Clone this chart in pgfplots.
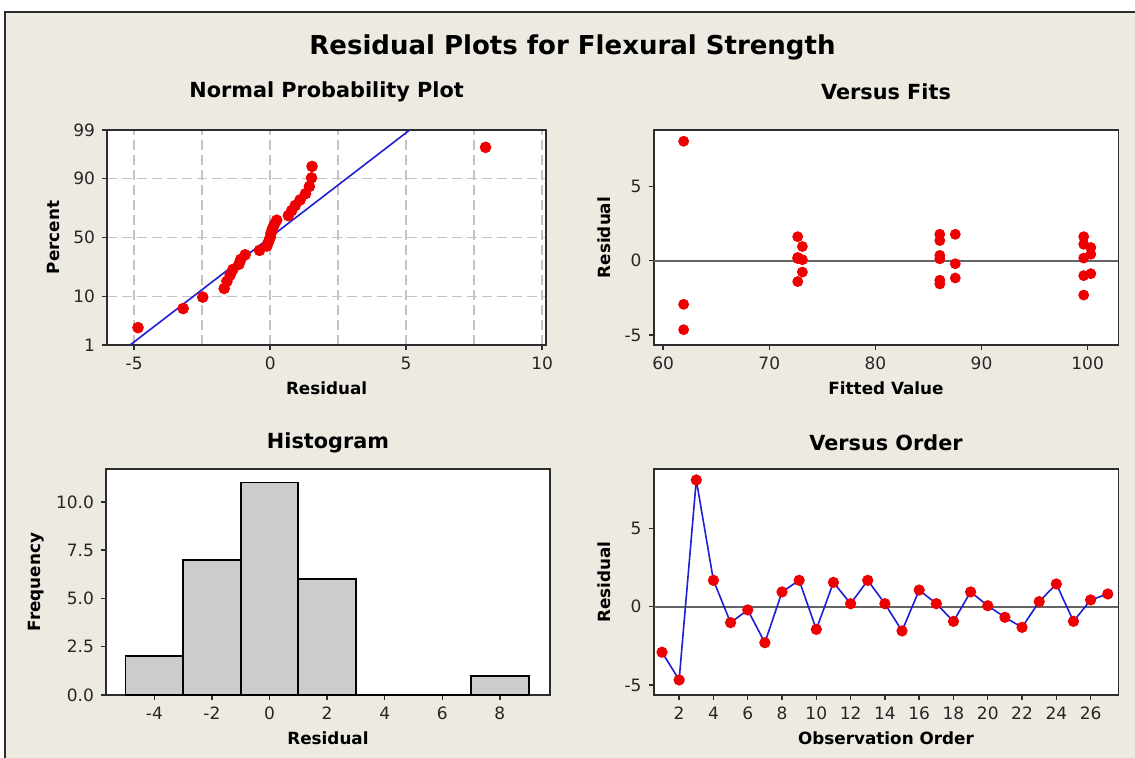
\documentclass[border=0pt]{standalone}
\usepackage{fontspec}
\setmainfont{DejaVu Sans}
\usepackage{pgfplots}
\pgfplotsset{compat=1.18}

\definecolor{bg}{RGB}{237,234,226}
\definecolor{frame}{RGB}{45,45,45}
\definecolor{dotred}{RGB}{238,0,0}
\definecolor{lineblue}{RGB}{30,30,215}
\definecolor{gridgray}{RGB}{195,195,195}
\definecolor{barfill}{RGB}{204,204,204}
\definecolor{zeroline}{RGB}{100,100,100}

\pgfplotsset{
  every axis title shift=0pt,
  resid/.style={
    scale only axis,
    anchor=north west,
    axis background/.style={fill=white},
    axis line style={frame, line width=0.9pt},
    every tick/.style={frame, line width=0.7pt},
    tick align=outside,
    xtick pos=left, ytick pos=left,
    major tick length=2.5pt,
    minor tick length=0pt,
    tick label style={font=\fontsize{8.5}{10}\selectfont, text=black!85},
    label style={font=\bfseries\fontsize{8.4}{10}\selectfont},
    title style={font=\bfseries\fontsize{10.4}{12}\selectfont, at={(axis description cs:0.5,1)}, anchor=center},
    /pgf/number format/assume math mode=true,
  },
}

\begin{document}
\begin{tikzpicture}
\path[use as bounding box] (0,0) rectangle (567.5pt,-379pt);
\fill[white] (0,0) rectangle (567.5pt,-379pt);
\fill[bg] (2.5pt,-6pt) rectangle (567.5pt,-379pt);
\draw[frame, line width=1pt] (2.5pt,-379pt) |- (567.5pt,-6pt);

\node[font=\bfseries\fontsize{13}{15}\selectfont] at (286.25pt,-23.5pt) {Residual Plots for Flexural Strength};

% normal probability plot (y = normal quantile of the plotting position)
\begin{axis}[resid,
  at={(53.5pt,-65pt)}, width=219.6pt, height=107.5pt,
  xmin=-6, xmax=10.15, ymin=-2.3263, ymax=2.3263,
  xtick={-5,0,5,10}, minor xtick={-2.5,2.5,7.5},
  ytick={-2.3263,-1.2816,0,1.2816,2.3263}, yticklabels={1,10,50,90,99},
  xmajorgrids, xminorgrids, ymajorgrids,
  grid style={gridgray, dash pattern=on 5pt off 2.5pt, line width=0.7pt},
  title={Normal Probability Plot}, title style={yshift=19pt},
  xlabel={Residual}, xlabel style={at={(axis description cs:0.5,-0.2014)}, anchor=center},
  ylabel={Percent}, ylabel style={at={(axis description cs:-0.1215,0.5)}, anchor=center},
]
\addplot[lineblue, line width=0.8pt] coordinates {(-5.15,-2.3263) (5.13,2.3263)};
\addplot[only marks, mark=*, mark size=2.7pt, mark options={draw=dotred, fill=dotred}] coordinates {
(-4.86,-1.951) (-3.20,-1.538) (-2.48,-1.290) (-1.69,-1.103) (-1.59,-0.948)
(-1.47,-0.813) (-1.37,-0.692) (-1.15,-0.580) (-1.08,-0.474) (-0.92,-0.374)
(-0.39,-0.278) (-0.12,-0.184) (-0.06,-0.092) (0.00,0.000) (0.03,0.092)
(0.08,0.184) (0.15,0.278) (0.24,0.374) (0.67,0.474) (0.79,0.580)
(0.92,0.692) (1.10,0.813) (1.30,0.948) (1.44,1.103) (1.52,1.290)
(1.54,1.538) (7.92,1.951)
};
\end{axis}

% versus fits
\begin{axis}[resid,
  at={(326.8pt,-65pt)}, width=232.4pt, height=107.5pt,
  xmin=59.1, xmax=102.9, ymin=-5.67, ymax=8.8,
  xtick={60,70,80,90,100}, ytick={-5,0,5},
  title={Versus Fits}, title style={yshift=19pt},
  xlabel={Fitted Value}, xlabel style={at={(axis description cs:0.5,-0.2014)}, anchor=center},
  ylabel={Residual}, ylabel style={at={(axis description cs:-0.106,0.5)}, anchor=center},
]
\addplot[zeroline, line width=0.9pt] coordinates {(59.1,0) (102.9,0)};
\addplot[only marks, mark=*, mark size=2.5pt, mark options={draw=dotred, fill=dotred}] coordinates {
(61.93,8.04) (61.93,-2.93) (61.93,-4.64)
(72.68,1.62) (73.12,0.96) (72.68,0.22) (73.12,0.07) (73.12,-0.76) (72.68,-1.40) (72.68,0.15)
(86.07,1.78) (86.07,1.36) (86.07,0.36) (86.07,0.13) (86.07,-1.31) (86.07,-1.56)
(87.53,1.78) (87.53,-0.20) (87.53,-1.16)
(99.63,1.62) (99.63,1.11) (100.3,0.89) (100.3,0.44) (99.63,0.18) (99.63,-1.00) (100.3,-0.87) (99.63,-2.31)
};
\end{axis}

% histogram
\begin{axis}[resid,
  at={(53pt,-234.5pt)}, width=222pt, height=113pt,
  xmin=-5.68, xmax=9.74, ymin=0, ymax=11.7,
  xtick={-4,-2,0,2,4,6,8}, ytick={0,2.5,5,7.5,10},
  yticklabel style={/pgf/number format/.cd, fixed, fixed zerofill, precision=1},
  title={Histogram}, title style={yshift=13pt},
  xlabel={Residual}, xlabel style={at={(axis description cs:0.5,-0.19)}, anchor=center},
  ylabel={Frequency}, ylabel style={at={(axis description cs:-0.158,0.5)}, anchor=center},
]
\addplot[ybar, bar width=2, bar shift=0pt, fill=barfill, draw=black, line width=0.9pt] coordinates {
(-4,2) (-2,7) (0,11) (2,6) (4,0) (6,0) (8,1)
};
\end{axis}

% versus order
\begin{axis}[resid,
  at={(326.8pt,-234.5pt)}, width=232.4pt, height=113pt,
  xmin=0.51, xmax=27.62, ymin=-5.64, ymax=8.79,
  xtick={2,4,...,26}, ytick={-5,0,5},
  title={Versus Order}, title style={yshift=13pt},
  xlabel={Observation Order}, xlabel style={at={(axis description cs:0.5,-0.19)}, anchor=center},
  ylabel={Residual}, ylabel style={at={(axis description cs:-0.107,0.5)}, anchor=center},
]
\addplot[zeroline, line width=0.9pt] coordinates {(0.51,0) (27.62,0)};
\addplot[lineblue, line width=0.8pt, mark=*, mark size=2.4pt, mark options={draw=dotred, fill=dotred}] coordinates {
(1,-2.91) (2,-4.68) (3,8.09) (4,1.68) (5,-1.02) (6,-0.21) (7,-2.30) (8,0.94) (9,1.68)
(10,-1.45) (11,1.55) (12,0.19) (13,1.68) (14,0.19) (15,-1.55) (16,1.06) (17,0.19) (18,-0.94)
(19,0.94) (20,0.06) (21,-0.68) (22,-1.32) (23,0.32) (24,1.45) (25,-0.94) (26,0.43) (27,0.81)
};
\end{axis}
\end{tikzpicture}
\end{document}
